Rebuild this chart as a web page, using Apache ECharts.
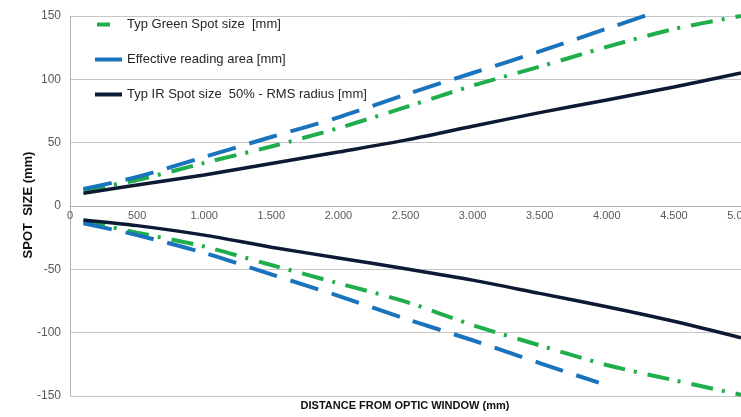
<!DOCTYPE html>
<html>
<head>
<meta charset="utf-8">
<script src="https://cdn.jsdelivr.net/npm/echarts@6/dist/echarts.min.js"></script>
<style>html,body{margin:0;padding:0;background:#fff}#c{width:741px;height:417px}</style>
</head>
<body>
<div id="c"></div>
<script>
var xValues = [100, 500, 1000, 1500, 2000, 2500, 3000, 3500, 4000, 4500, 5000];
var greenUpper = [12.6, 20.5, 34, 47, 61.5, 78, 95, 110, 125.6, 139.7, 150];
var greenLower = [-12, -21, -32, -46.6, -61, -75.5, -94, -110, -125.5, -137.5, -149];
var blueXUpper = [100, 500, 1000, 1500, 2000, 2500, 3000, 3500, 4000, 4500];
var blueUpper = [13.4, 23, 38.7, 54.5, 70, 88, 105, 122, 140, 158];
var blueXLower = [100, 500, 1000, 1500, 2000, 2500, 3000, 3500, 3940];
var blueLower = [-13.6, -23, -37, -54, -71, -89, -106, -124, -139.5];
var irUpper = [10, 16.6, 24.5, 33.5, 42.6, 52, 63, 73.7, 83.7, 94, 105];
var irLower = [-11, -15.5, -23, -32.5, -41, -49.5, -58.5, -69, -79.5, -91, -104];
var names = ['Typ Green Spot size  [mm]', 'Effective reading area [mm]', 'Typ IR Spot size  50% - RMS radius [mm]'];
var yTicks = {min: -150, max: 150, interval: 50};
var xTicks = {min: 0, max: 5000, interval: 500};

function pairs(xs, ys) { return xs.map(function (x, i) { return [x, ys[i]]; }); }

var GREEN = '#1fae4b', BLUE = '#1a73bd', NAVY = '#0c1b33';
var greenStyle = {color: GREEN, width: 4, type: [22, 9, 3, 11]};
var blueStyle = {color: BLUE, width: 4, type: [29, 14]};
var navyStyle = {color: NAVY, width: 3.5, type: 'solid'};

function line(name, data, style) {
  return {name: name, type: 'line', data: data, symbol: 'none', showSymbol: false, smooth: 0.3,
    lineStyle: style, itemStyle: {color: style.color}, emphasis: {disabled: true}};
}

var chart = echarts.init(document.getElementById('c'), null, {renderer: 'canvas'});
chart.setOption({
  animation: false,
  textStyle: {fontFamily: 'Liberation Sans, Arial, sans-serif'},
  grid: {left: 70, right: 0, top: 16, bottom: 21, containLabel: false, outerBoundsMode: 'none'},
  legend: {
    orient: 'vertical', left: 93, top: 18, padding: 0, itemGap: 22, itemWidth: 27, itemHeight: 14,
    textStyle: {fontSize: 13, color: '#262626', fontFamily: 'Liberation Sans, Arial, sans-serif'},
    data: [
      {name: names[0], itemStyle: {opacity: 0}, lineStyle: {color: GREEN, width: 4, type: [13, 40], dashOffset: -2}},
      {name: names[1], itemStyle: {opacity: 0}, lineStyle: {color: BLUE, width: 4, type: 'solid'}},
      {name: names[2], itemStyle: {opacity: 0}, lineStyle: {color: NAVY, width: 4, type: 'solid'}}
    ]
  },
  xAxis: {
    type: 'value', min: xTicks.min, max: xTicks.max, interval: xTicks.interval,
    position: 'bottom', offset: -190,
    axisLine: {onZero: false, lineStyle: {color: '#b3b3b3', width: 1}},
    axisTick: {show: false},
    splitLine: {show: false},
    axisLabel: {color: '#595959', fontSize: 11, margin: 4,
      formatter: function (v) { return v >= 1000 ? Math.floor(v / 1000) + '.' + String(v % 1000).padStart(3, '0') : String(v); }}
  },
  yAxis: {
    type: 'value', min: yTicks.min, max: yTicks.max, interval: yTicks.interval,
    axisLine: {show: true, lineStyle: {color: '#b3b3b3', width: 1}},
    axisTick: {show: false},
    splitLine: {show: true, lineStyle: {color: '#c6c6c6', width: 1}},
    axisLabel: {color: '#595959', fontSize: 12, margin: 9}
  },
  graphic: [
    {type: 'text', x: 28, y: 205, rotation: Math.PI / 2,
      style: {text: 'SPOT  SIZE (mm)', fill: '#111', font: 'bold 13px "Liberation Sans", Arial, sans-serif', textAlign: 'center', textVerticalAlign: 'middle'}},
    {type: 'text', x: 405, y: 406,
      style: {text: 'DISTANCE FROM OPTIC WINDOW (mm)', fill: '#111', font: 'bold 11px "Liberation Sans", Arial, sans-serif', textAlign: 'center', textVerticalAlign: 'middle'}}
  ],
  series: [
    line(names[0], pairs(xValues, greenUpper), greenStyle),
    line(names[1], pairs(blueXUpper, blueUpper), blueStyle),
    line(names[2], pairs(xValues, irUpper), navyStyle),
    line(names[0], pairs(xValues, greenLower), greenStyle),
    line(names[1], pairs(blueXLower, blueLower), blueStyle),
    line(names[2], pairs(xValues, irLower), navyStyle)
  ]
});
</script>
</body>
</html>
